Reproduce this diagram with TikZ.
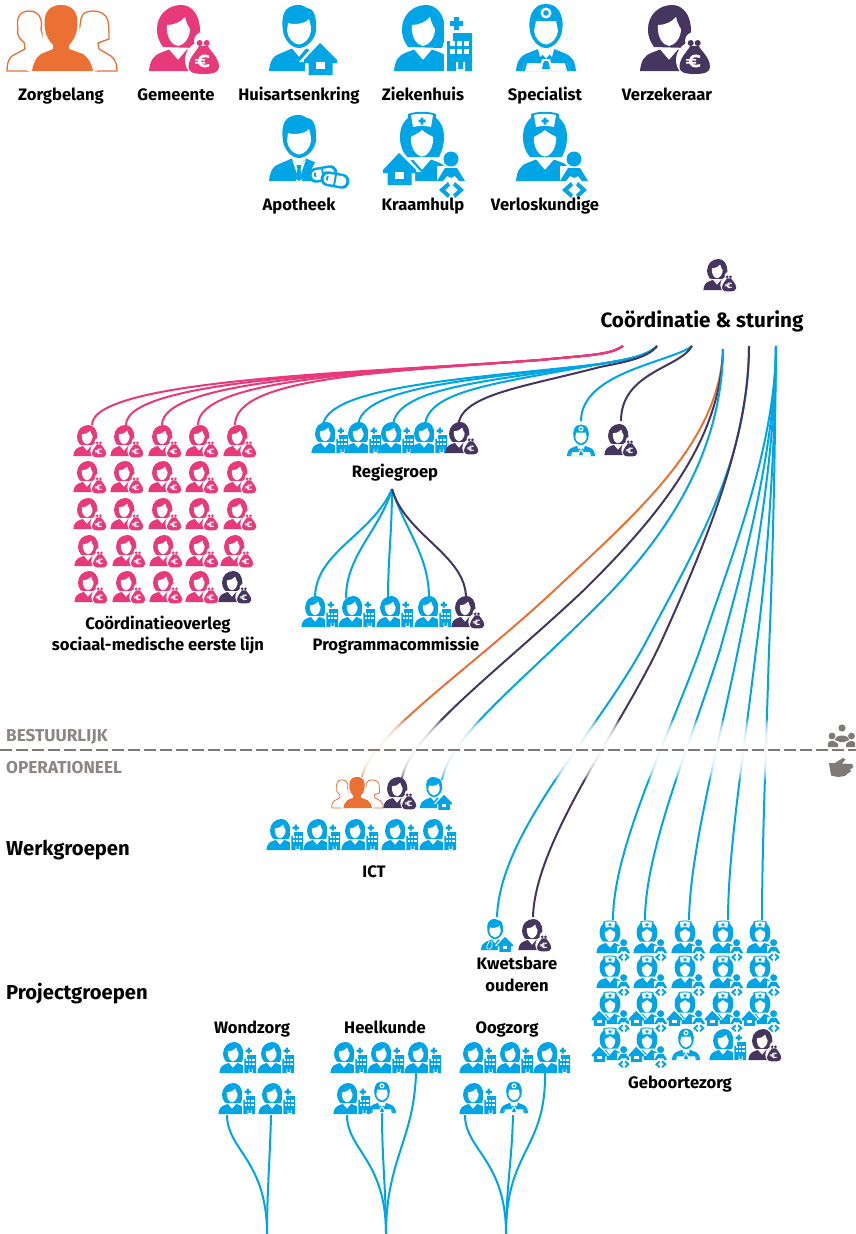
\documentclass[tikz,border=0pt]{standalone}
\usepackage{fontspec}
\setmainfont{Fira Sans}
\definecolor{zblue}{HTML}{00A5E6}
\definecolor{zpink}{HTML}{E8397A}
\definecolor{zpurple}{HTML}{45355F}
\definecolor{zorange}{HTML}{EB7033}
\definecolor{zgray}{HTML}{7F7A76}
\tikzset{
  every pic/.append style={transform shape},
  link/.style={line width=2pt},
  small/.style={scale=.47},
  grouplabel/.style={font=\bfseries\fontsize{16.6}{18}\selectfont, anchor=base, inner sep=0pt},
  sectionlabel/.style={font=\bfseries\fontsize{20.2}{22}\selectfont, anchor=base west, inner sep=0pt},
  bandlabel/.style={font=\bfseries\fontsize{17.2}{18}\selectfont, text=zgray!90!white, anchor=base west, inner sep=0pt},
  % icon parts, origin at the middle of the head on the base line
  pics/bust/.style={code={
    \fill[#1] (-29,0) .. controls (-28,-10) and (-25,-15) .. (-18,-18) -- (-9,-21.5) -- (0,-11) -- (9,-21.5) -- (18,-18) .. controls (25,-15) and (28,-10) .. (29,0) -- cycle;
  }},
  pics/woman/.style={code={
    \fill[#1] (-15,-24) .. controls (-19,-30) and (-21,-34) .. (-21,-42) .. controls (-21,-56) and (-10,-66) .. (3,-66) .. controls (14,-66) and (22,-56) .. (22,-40) .. controls (22,-34) and (21,-28) .. (19,-23) -- cycle;
    \fill[white] (-11,-46) .. controls (-4,-46) and (3,-49) .. (7,-54) .. controls (8,-49) and (10,-45) .. (12,-42) .. controls (12,-33) and (6,-26) .. (0,-25) .. controls (-6,-26) and (-12,-33) .. (-11,-46) -- cycle;
    \pic {bust=#1};
  }},
  pics/manhead/.style={code={
    \fill[#1] (-16,-40) .. controls (-18,-54) and (-16,-66) .. (0,-66) .. controls (4,-66) and (6,-64) .. (8,-63) .. controls (14,-63) and (18,-56) .. (17,-40) .. controls (16,-32) and (8,-23) .. (0,-23) .. controls (-8,-23) and (-15,-32) .. (-16,-40) -- cycle;
    \fill[white] (-11,-48) .. controls (-5,-46) and (6,-47) .. (10,-52) .. controls (12,-46) and (12,-42) .. (12,-40) .. controls (11,-33) and (6,-27) .. (0,-26.5) .. controls (-6,-27) and (-11,-33) .. (-12,-40) -- cycle;
  }},
  pics/man/.style={code={
    \pic {manhead=#1};
    \fill[#1] (-30,0) .. controls (-29,-10) and (-26,-15) .. (-20,-17) -- (-7,-22.5) -- (0,-14) -- (7,-22.5) -- (20,-17) .. controls (26,-15) and (29,-10) .. (30,0) -- cycle;
  }},
  pics/doctor/.style={code={
    \fill[#1] (-16,-40) .. controls (-17,-46) and (-17,-50) .. (-15,-56) .. controls (-12,-64) and (-7,-67) .. (0,-67) .. controls (7,-67) and (12,-64) .. (15,-56) .. controls (17,-50) and (17,-46) .. (16,-40) .. controls (15,-32) and (8,-23) .. (0,-23) .. controls (-8,-23) and (-15,-32) .. (-16,-40) -- cycle;
    \fill[white] (-10,-50) -- (10,-50) -- (12,-40) .. controls (11,-33) and (6,-27) .. (0,-26.5) .. controls (-6,-27) and (-11,-33) .. (-12,-40) -- cycle;
    \fill[white] (0,-58) circle (5.5);
    \fill[#1] (0,-58) circle (2.8);
    \fill[#1] (-30,0) .. controls (-29,-10) and (-26,-15) .. (-18,-18) -- (-8,-22) -- (0,-12) -- (8,-22) -- (18,-18) .. controls (26,-15) and (29,-10) .. (30,0) -- cycle;
    \fill[white] (-8,-22) -- (-6,-14) -- (-2,-18) -- (0,-16) -- (2,-18) -- (6,-14) -- (8,-22) -- (0,-19) -- cycle;
    \fill[white] (-24,0) -- (-21,-8) -- (-5,-8) -- (-4,-12) -- (4,-12) -- (5,-8) -- (21,-8) -- (24,0) -- cycle;
    \fill[#1] (-4,-2) -- (-3,-7) -- (-2,-10) -- (2,-10) -- (3,-7) -- (4,-2) -- cycle;
    \fill[#1] (-24,0) -- (-21,-8) -- (-19,-8) -- (-21,0) -- cycle (24,0) -- (21,-8) -- (19,-8) -- (21,0) -- cycle;
  }},
  pics/nurse/.style={code={
    \fill[#1] (-15,-24) .. controls (-20,-30) and (-22,-36) .. (-22,-44) .. controls (-22,-54) and (-18,-60) .. (-14,-63) -- (-14,-67) .. controls (-6,-70) and (6,-70) .. (14,-67) -- (14,-63) .. controls (18,-60) and (22,-54) .. (22,-44) .. controls (22,-36) and (20,-30) .. (17,-24) -- cycle;
    \fill[white] (-11,-66) .. controls (-5,-67.5) and (5,-67.5) .. (11,-66) -- (9,-54) .. controls (4,-55.5) and (-4,-55.5) .. (-9,-54) -- cycle;
    \fill[#1] (-1.3,-63.5) rectangle (1.3,-56.5) (-3.5,-61.3) rectangle (3.5,-58.7);
    \fill[white] (0,-51) .. controls (-3,-48) and (-8,-46) .. (-11,-44) .. controls (-12,-34) and (-6,-25) .. (0,-24.5) .. controls (6,-25) and (12,-34) .. (11,-44) .. controls (8,-46) and (3,-48) .. (0,-51) -- cycle;
    \pic {bust=#1};
  }},
  pics/bag/.style={code={
    \fill[white] (25,-30) circle (9) (26,-11) circle (19);
    \fill[#1] (21.7,-28) circle (3) (28.7,-28) circle (3);
    \fill[#1] (21,-25) -- (30,-25) .. controls (31,-21) and (41,-14) .. (41,-4) .. controls (41,1) and (36,3) .. (26,3) .. controls (15,3) and (10.5,1) .. (10.5,-4) .. controls (10.5,-14) and (20,-21) .. (21,-25) -- cycle;
    \fill[white] (31,-15.5) .. controls (26,-18) and (20,-16) .. (20,-10) .. controls (20,-4) and (26,-2) .. (31,-4.5) -- (31,-7) .. controls (27,-5.5) and (23,-6) .. (23,-10) .. controls (23,-14) and (27,-14.5) .. (31,-13) -- cycle;
    \fill[white] (17,-12) rectangle (27,-10.3) (17,-9.2) rectangle (27,-7.5);
  }},
  pics/house/.style={code={
    \fill[white] (21,-33) -- (43,-9) -- (37,-9) -- (37,6) -- (6,6) -- (6,-9) -- (0,-9) -- cycle;
    \fill[#1] (21,-28) -- (38,-11) -- (38,-8) -- (33.5,-8) -- (33.5,4) -- (9.5,4) -- (9.5,-8) -- (5,-8) -- (5,-11) -- cycle;
    \fill[white] (17,-9) rectangle (26,-2);
  }},
  pics/hospital/.style={code={
    \fill[white] (21,-54) rectangle (52,2);
    \fill[#1] (31,-54) rectangle (36,-41) (27,-50) rectangle (40,-45);
    \fill[#1] (30,-38) rectangle (49,0) (24,-30) rectangle (30,0);
    \foreach \wx in {27,34,41}{\foreach \wy in {-30,-22}{\fill[white] (\wx,\wy) rectangle (\wx+5,\wy+5);}}
    \fill[white] (33,-9) rectangle (35,0) (40,-9) rectangle (42,0);
    \fill[white] (35,-2) rectangle (40,0);
  }},
  pics/baby/.style={code={
    \fill[white] (29,-22) circle (10) (15,-15) rectangle (44,6) (15,6) rectangle (44,18);
    \fill[#1] (29,-22) circle (7.5);
    \fill[#1] (23,-13) -- (35,-13) -- (43,0) -- (37,0) -- (33,-5) -- (29,-3) -- (25,-5) -- (21,0) -- (15,0) -- cycle;
    \fill[#1] (26,1) -- (17,9) -- (26,17) -- (28,13.5) -- (23,9) -- (28,4.5) -- cycle;
    \fill[#1] (33,1) -- (42,9) -- (33,17) -- (31,13.5) -- (36,9) -- (31,4.5) -- cycle;
  }},
  pics/pill/.style={code={
    \fill[#1] (-7,-7.5) -- (7,-7.5) .. controls (17,-7.5) and (17,7.5) .. (7,7.5) -- (-7,7.5) .. controls (-17,7.5) and (-17,-7.5) .. (-7,-7.5) -- cycle;
    \fill[white] (-7,-5) -- (7,-5) .. controls (13,-5) and (13,5) .. (7,5) -- (-7,5) .. controls (-13,5) and (-13,-5) .. (-7,-5) -- cycle;
    \fill[#1] (-1,-5) rectangle (1,5);
    \fill[#1] (-7,-3) .. controls (-10,-3) and (-10,2) .. (-7,2) -- (-7,0) -- cycle;
  }},
  % the persons of the legend
  pics/gemeente/.style={code={\pic {woman=#1}; \pic {bag=#1};}},
  pics/ziekenhuis/.style={code={\pic {woman=#1}; \pic {hospital=#1};}},
  pics/huisarts/.style={code={\pic {man=#1}; \pic {house=#1};}},
  pics/oudere/.style={code={\pic {man=#1}; \pic {house=#1};
    \draw[white, line width=.7pt] (-12,-19) .. controls (-18,-8) and (-20,-4) .. (-14,-2) (-8,-20) .. controls (-4,-12) and (-6,-4) .. (-12,-2);}},
  pics/apotheek/.style={code={\pic {man=#1};
    \fill[white] (-7,-22) -- (-2,-7) -- (-3,0) -- (3,0) -- (2,-7) -- (7,-22) -- (0,-14) -- cycle;
    \fill[#1] (-2.5,-16) -- (2.5,-16) -- (1.5,-12) -- (3,-2) -- (0,0) -- (-3,-2) -- (-1.5,-12) -- cycle;
    \fill[white] (32,-6) circle (20);
    \pic[rotate=10] at (24,-7) {pill=#1};
    \pic[rotate=-10] at (36,-1) {pill=#1};}},
  pics/verloskundige/.style={code={\pic {nurse=#1}; \pic {baby=#1};}},
  pics/kraamhulp/.style={code={\pic {nurse=#1}; \pic at (-44,0) {house=#1}; \pic {baby=#1};}},
  pics/zorgbelang/.style={code={
    \draw[zorange, line width=#1, fill=white, line join=round] (-54,0) .. controls (-54,-6) and (-53,-12) .. (-49,-15) -- (-36,-22) -- (-37,-29) .. controls (-44,-33) and (-44,-40) .. (-43,-42) .. controls (-45,-52) and (-42,-60) .. (-32,-60) .. controls (-22,-60) and (-18,-52) .. (-20,-42) -- (-14,-20) -- (-30,-14) -- (-32,0) -- cycle;
    \draw[zorange, line width=#1, fill=white, line join=round] (56,0) .. controls (56,-6) and (55,-11) .. (50,-15) -- (38,-22) -- (37,-28) -- (48,-32) .. controls (48,-38) and (48,-44) .. (47,-50) .. controls (45,-58) and (38,-60) .. (32,-60) .. controls (26,-60) and (21,-58) .. (20,-52) -- (15,-20) -- (30,-14) -- (34,0) -- cycle;
    \fill[white] (-34,0) -- (-31,-14) -- (-17,-23) .. controls (-20,-36) and (-20,-70) .. (0,-70) .. controls (20,-70) and (20,-36) .. (18,-23) -- (30,-16) -- (36,0) -- cycle;
    \fill[zorange] (-16,-42) .. controls (-18,-54) and (-15,-66) .. (0,-66) .. controls (15,-66) and (18,-54) .. (16,-42) .. controls (15,-35) and (12,-30) .. (8,-26) -- (8,-22) -- (22,-17) .. controls (28,-13) and (31,-6) .. (32,0) -- (-29,0) .. controls (-28,-6) and (-26,-13) .. (-20,-17) -- (-8,-22) -- (-8,-26) .. controls (-12,-30) and (-15,-35) .. (-16,-42) -- cycle;
  }}
}
\begin{document}
\begin{tikzpicture}[x=1pt,y=-1pt]
  \useasboundingbox (0,0) rectangle (856,1234);
  %%% LINKS COORDINATIE %%%
  \coordinate (csa) at (623,346);
  \coordinate (csb) at (657,346);
  \coordinate (csc) at (692,346);
  \coordinate (csd) at (723,349);
  \coordinate (cse) at (749,346);
  \coordinate (csf) at (776,346);
  \coordinate (pj) at (540,360);
  \foreach \i/\x in {1/92,2/126,3/162,4/198,5/235}{
    \coordinate (pk\i) at (\x,425);
    \draw[link, zpink] (csa) .. controls (610,355) and (590,355) .. (pj) .. controls (380,372) and (\x,378) .. (pk\i);
  }
  \coordinate (bj) at (600,364);
  \foreach \i/\x/\cx/\cy/\dy in {1/323/480/378/385,2/358/485/379/385,3/393/492/381/387,4/425/500/383/390}{
    \coordinate (rg\i) at (\x,427);
    \draw[link, zblue] (csb) .. controls (648,356) and (625,360) .. (bj) .. controls (\cx,\cy) and (\x,\dy) .. (rg\i);
  }
  \coordinate (rg5) at (458,428);
  \draw[link, zpurple] (csb) .. controls (648,358) and (625,362) .. (600,367) .. controls (520,388) and (458,395) .. (rg5);
  \coordinate (sp) at (581,421);
  \coordinate (vz) at (621,421);
  \draw[link, zblue] (csc) .. controls (672,362) and (581,372) .. (sp);
  \draw[link, zpurple] (csc) .. controls (680,368) and (621,372) .. (vz);
  % naar ICT
  \coordinate (ict1) at (362,777);
  \coordinate (ict2) at (402,778);
  \coordinate (ict3) at (442,780);
  \draw[link, zorange] (csd) .. controls (720,440) and (640,510) .. (560,585) .. controls (470,670) and (370,735) .. (ict1);
  \draw[link, zpurple] (csd) .. controls (721,440) and (660,515) .. (584,590) .. controls (497,672) and (410,735) .. (ict2);
  \draw[link, zblue] (csd) .. controls (722,440) and (680,520) .. (608,595) .. controls (525,680) and (450,735) .. (ict3);
  % naar kwetsbare ouderen
  \coordinate (kw1) at (497,917);
  \coordinate (kw2) at (533,917);
  \draw[link, zblue] (cse) .. controls (748,460) and (700,540) .. (647,640) .. controls (600,730) and (500,830) .. (kw1);
  \draw[link, zpurple] (cse) .. controls (749,440) and (705,545) .. (662,640) .. controls (625,722) and (535,840) .. (kw2);
  % naar geboortezorg
  \foreach \i/\x/\ax/\jx/\bx/\by/\cx in {1/613/730/700/665/745/613,2/645/745/720/690/745/645,3/689/757/738/720/740/690,4/728/768/756/745/745/728,5/762/773/769/766/750/762}{
    \coordinate (gb\i) at (\x,920);
    \draw[link, zblue] (csf) .. controls (775,450) and (\ax,560) .. (\jx,650) .. controls (\bx,\by) and (\cx,850) .. (gb\i);
  }
  %%% REGIEGROEP %%%
  \coordinate (rgo) at (392,489);
  \foreach \i/\x/\ax/\ay/\by in {1/315/372/535/552,2/346/380/530/555,3/388/392/530/560,4/429/405/530/555}{
    \coordinate (pc\i) at (\x,598);
    \draw[link, zblue] (rgo) .. controls (\ax,\ay) and (\x,\by) .. (pc\i);
  }
  \coordinate (pc5) at (466,598);
  \draw[link, zpurple] (rgo) .. controls (405,535) and (466,555) .. (pc5);
  %%% PROJECTGROEPEN %%%
  \coordinate (wz) at (267,1234);
  \coordinate (hk) at (386,1234);
  \coordinate (oz) at (506,1234);
  \coordinate (wz1) at (227,1115);
  \coordinate (wz2) at (271,1115);
  \coordinate (hk1) at (347,1115);
  \coordinate (hk2) at (382,1113);
  \coordinate (hk3) at (416,1073);
  \coordinate (oz1) at (465,1115);
  \coordinate (oz2) at (513,1115);
  \coordinate (oz3) at (545,1073);
  \draw[link, zblue] (wz1) .. controls (227,1150) and (267,1160) .. (wz);
  \draw[link, zblue] (wz2) .. controls (270,1160) and (267,1190) .. (wz);
  \draw[link, zblue] (hk1) .. controls (347,1150) and (386,1160) .. (hk);
  \draw[link, zblue] (hk2) .. controls (382,1160) and (386,1190) .. (hk);
  \draw[link, zblue] (hk3) .. controls (414,1140) and (386,1160) .. (hk);
  \draw[link, zblue] (oz1) .. controls (465,1150) and (506,1160) .. (oz);
  \draw[link, zblue] (oz2) .. controls (512,1160) and (506,1190) .. (oz);
  \draw[link, zblue] (oz3) .. controls (546,1150) and (506,1150) .. (oz);
  %%% BESTUURLIJK / OPERATIONEEL %%%
  % the links fade out round the dashed line
  \foreach \d in {2,4,...,30}{
    \fill[white, opacity=.2] (0,750-\d) rectangle (856,750+\d);
  }
  \coordinate (dl) at (0,750);
  \coordinate (dr) at (856,750);
  \draw[zgray, line width=1.6pt, dash pattern=on 11.5pt off 4.5pt] (dl) -- (dr);
  \node[bandlabel] (bestuurlijk) at (6,741) {BESTUURLIJK};
  \node[bandlabel] (operationeel) at (6,773) {OPERATIONEEL};
  \fill[zgray] (842,728) circle (3.6) (832,736) circle (3.4) (851.5,736) circle (3.4);
  \fill[zgray] (835,740) .. controls (835,734) and (849,734) .. (849,740) -- (844,742) -- (840,742) -- cycle;
  \fill[zgray] (828,747) -- (828,743) .. controls (829,740) and (835,740) .. (838,744) -- (838,747) -- cycle;
  \fill[zgray] (846,747) -- (846,744) .. controls (849,740) and (854,740) .. (855,743) -- (855,747) -- cycle;
  \fill[zgray] (829,763) -- (835,763) -- (843,758) -- (845.5,759.5) -- (842,763.5) -- (852,764) -- (853.5,767) -- (850,769.5) -- (851,771.5) -- (847,774) -- (845,776) -- (838,777) -- (831,775.5) -- cycle;
  %%% LEGENDA %%%
  \pic at (61,71) {zorgbelang=1.3pt};
  \pic at (178,71) {gemeente=zpink};
  \pic at (299,71) {huisarts=zblue};
  \pic at (423,71) {ziekenhuis=zblue};
  \pic at (546,71) {doctor=zblue};
  \pic at (669,71) {gemeente=zpurple};
  \pic at (299,181) {apotheek=zblue};
  \pic at (422,181) {kraamhulp=zblue};
  \pic at (545,181) {verloskundige=zblue};
  \node[grouplabel] (zorgbelang) at (61,100) {Zorgbelang};
  \node[grouplabel] (gemeente) at (176,100) {Gemeente};
  \node[grouplabel] (huisartsenkring) at (299,100) {Huisartsenkring};
  \node[grouplabel] (ziekenhuis) at (423,100) {Ziekenhuis};
  \node[grouplabel] (specialist) at (545,100) {Specialist};
  \node[grouplabel] (verzekeraar) at (667,100) {Verzekeraar};
  \node[grouplabel] (apotheek) at (299,210) {Apotheek};
  \node[grouplabel] (kraamhulp) at (423,210) {Kraamhulp};
  \node[grouplabel] (verloskundige) at (545,210) {Verloskundige};
  %%% COORDINATIE %%%
  \pic[small] at (717,290) {gemeente=zpurple};
  \node[font=\bfseries\fontsize{20.7}{22}\selectfont, anchor=base, inner sep=0pt] (sturing) at (702,327) {Coördinatie \& sturing};
  %%% COORDINATIEOVERLEG %%%
  \foreach \y in {456,492,529}{\foreach \x in {87,124,162,199,237}{\pic[small] at (\x,\y) {gemeente=zpink};}}
  \foreach \x in {88,126,163,199,234}{\pic[small] at (\x,566) {gemeente=zpink};}
  \foreach \x in {88,126,163,199}{\pic[small] at (\x,602) {gemeente=zpink};}
  \pic[small] at (232,602) {gemeente=zpurple};
  \node[grouplabel] (overleg) at (158,629) {Coördinatieoverleg};
  \node[grouplabel] (eerstelijn) at (158,650) {sociaal-medische eerste lijn};
  \foreach \x in {325,358,391,424}{\pic[small] at (\x,453) {ziekenhuis=zblue};}
  \pic[small] at (459,453) {gemeente=zpurple};
  \node[grouplabel] (regiegroep) at (395,477) {Regiegroep};
  \foreach \x in {315,352,390,428}{\pic[small] at (\x,627) {ziekenhuis=zblue};}
  \pic[small] at (465,627) {gemeente=zpurple};
  \node[grouplabel] (commissie) at (396,650) {Programmacommissie};
  \pic[small] at (581,456) {doctor=zblue};
  \pic[small] at (618,455) {gemeente=zpurple};
  %%% WERKGROEPEN %%%
  \node[sectionlabel] (werkgroepen) at (6,855) {Werkgroepen};
  \pic[small] at (357,808) {zorgbelang=.8pt};
  \pic[small] at (397,808) {gemeente=zpurple};
  \pic[small] at (434,808) {huisarts=zblue};
  \foreach \x in {280,317,355,395,433}{\pic[small] at (\x,850) {ziekenhuis=zblue};}
  \node[grouplabel] (ict) at (374,877) {ICT};
  %%% PROJECTGROEPEN %%%
  \node[sectionlabel] (projectgroepen) at (6,999) {Projectgroepen};
  \pic[small] at (495,950) {oudere=zblue};
  \pic[small] at (532,950) {gemeente=zpurple};
  \node[grouplabel] (kwetsbare) at (517,969) {Kwetsbare};
  \node[grouplabel] (ouderen) at (517,991) {ouderen};
  \foreach \x in {610,647,685,723,760}{
    \pic[small] at (\x,953) {verloskundige=zblue};
    \pic[small] at (\x,988) {verloskundige=zblue};
    \pic[small] at (\x,1024) {kraamhulp=zblue};
  }
  \pic[small] at (610,1060) {kraamhulp=zblue};
  \pic[small] at (647,1060) {kraamhulp=zblue};
  \pic[small] at (686,1060) {doctor=zblue};
  \pic[small] at (723,1060) {ziekenhuis=zblue};
  \pic[small] at (762,1060) {gemeente=zpurple};
  \node[grouplabel] (geboortezorg) at (680,1088) {Geboortezorg};
  \node[grouplabel] (wondzorg) at (252,1033) {Wondzorg};
  \node[grouplabel] (heelkunde) at (385,1033) {Heelkunde};
  \node[grouplabel] (oogzorg) at (507,1033) {Oogzorg};
  \foreach \x in {233,271,344,381,418,473,510,547}{\pic[small] at (\x,1073) {ziekenhuis=zblue};}
  \foreach \x in {232,272,347,473}{\pic[small] at (\x,1114) {ziekenhuis=zblue};}
  \pic[small] at (382,1113) {doctor=zblue};
  \pic[small] at (514,1113) {doctor=zblue};
\end{tikzpicture}
\end{document}
